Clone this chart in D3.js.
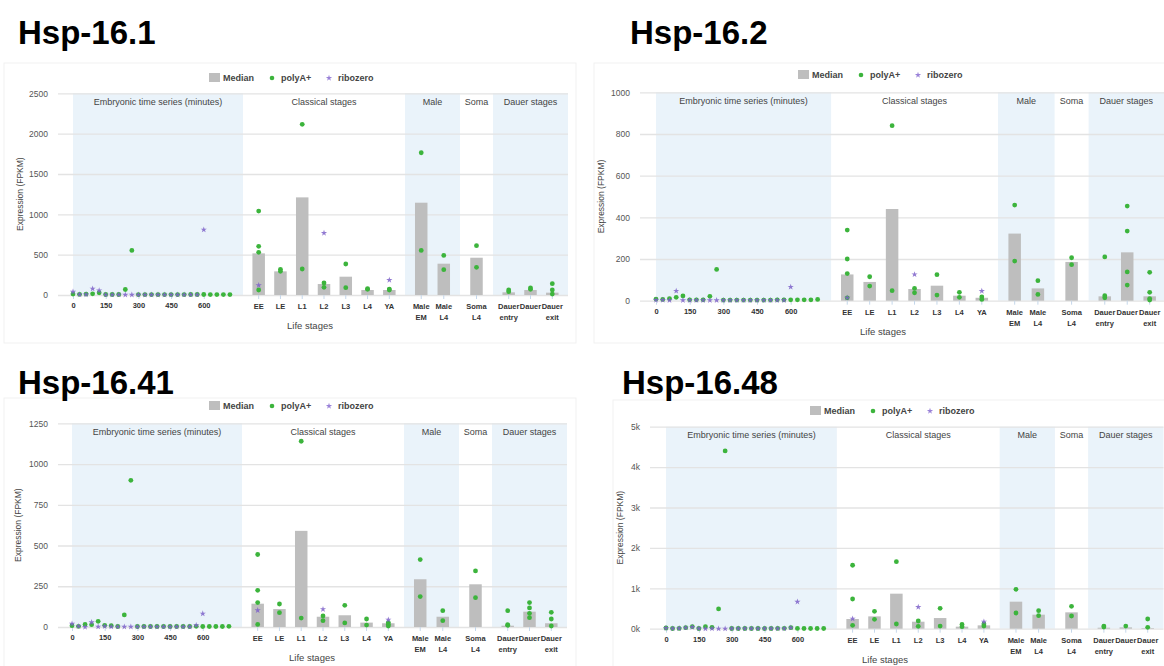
<!DOCTYPE html>
<html>
<head>
<meta charset="utf-8">
<script src="https://cdn.jsdelivr.net/npm/d3@7"></script>
<style>
body { margin: 0; background: #fff; }
text { font-family: "Liberation Sans", Arial, sans-serif; }
</style>
</head>
<body>
<svg id="chart" width="1164" height="666"></svg>
<script>
// categories
var embTimes = [0, 30, 60, 90, 120, 150, 180, 210, 240, 270, 300, 330, 360, 390, 420, 450, 480, 510, 540, 570, 600, 630, 660, 690, 720];
var riboTimes = [0, 30, 60, 90, 120, 150, 180, 210, 240, 270, 300, 330, 360, 390, 420, 450, 480, 510, 540, 570, 600];
var embTickLabels = [0, 150, 300, 450, 600];
var stageNames = ["EE", "LE", "L1", "L2", "L3", "L4", "YA", "Male EM", "Male L4", "Soma L4", "Dauer entry", "Dauer", "Dauer exit"];
var sectionNames = ["Embryonic time series (minutes)", "Classical stages", "Male", "Soma", "Dauer stages"];
var sectionStages = [[], ["EE", "LE", "L1", "L2", "L3", "L4", "YA"], ["Male EM", "Male L4"], ["Soma L4"], ["Dauer entry", "Dauer", "Dauer exit"]];
var legendLabels = ["Median", "polyA+", "ribozero"];

// Hsp-16.1
var hsp161EmbPolyA = [12, 8, 12, 14, 28, 6, 6, 6, 68, 553, 5, 5, 5, 5, 5, 5, 5, 5, 6, 6, 6, 5, 5, 5, 5];
var hsp161EmbRibo = [40, 5, 6, 78, 56, 4, 4, 4, 3, 3, 3, 3, 3, 3, 3, 3, 3, 4, 4, 4, 810];
var hsp161Median = [516, 293, 1210, 136, 227, 62, 62, 1144, 388, 462, 33, 62, 29];
var hsp161PolyA = [[1040, 603, 529, 62], [318, 293], [2115, 322], [149, 95], [384, 91], [78, 70], [74, 62], [1763, 553], [491, 314], [611, 343], [62, 41], [87, 70], [140, 62, 12]];
var hsp161Ribo = [[120], [], [], [768], [], [], [186], [], [], [], [], [], []];

// Hsp-16.2
var hsp162EmbPolyA = [8, 6, 10, 16, 23, 4, 4, 4, 21, 150, 3, 3, 3, 3, 3, 3, 3, 3, 4, 4, 4, 4, 4, 4, 6];
var hsp162EmbRibo = [3, 3, 2, 47, 2, 2, 2, 2, 2, 2, 2, 2, 2, 2, 2, 2, 2, 2, 2, 2, 66];
var hsp162Median = [126, 90, 440, 56, 72, 24, 14, 322, 59, 186, 21, 232, 21];
var hsp162PolyA = [[339, 200, 130, 14], [115, 70], [840, 48], [59, 38], [125, 27], [40, 16], [18, 6], [459, 190], [96, 30], [206, 173], [210, 24, 14], [454, 334, 138, 75], [136, 40, 10, 3]];
var hsp162Ribo = [[14], [], [], [126], [], [], [46], [], [], [], [], [], []];

// Hsp-16.41
var hsp1641EmbPolyA = [8, 4, 16, 14, 35, 10, 8, 3, 74, 900, 3, 3, 3, 3, 3, 3, 3, 3, 3, 4, 3, 3, 3, 3, 4];
var hsp1641EmbRibo = [20, 4, 0, 29, 2, 4, 2, 2, 1, 1, 1, 1, 1, 1, 1, 1, 1, 1, 1, 10, 82];
var hsp1641Median = [143, 110, 590, 63, 72, 27, 23, 293, 63, 262, 8, 94, 23];
var hsp1641PolyA = [[445, 225, 150, 16], [141, 88], [1140, 55], [68, 39], [133, 25], [49, 12], [27, 16, 6], [414, 187], [100, 39], [344, 180], [100, 14, 10], [150, 117, 84, 57], [90, 49, 6]];
var hsp1641Ribo = [[102], [], [], [109], [], [], [45], [], [], [], [], [], []];

// Hsp-16.48
var hsp1648EmbPolyA = [17, 5, 8, 25, 50, 5, 50, 33, 490, 4400, 5, 5, 5, 5, 5, 5, 5, 8, 10, 25, 8, 5, 5, 5, 5];
var hsp1648EmbRibo = [17, 5, 8, 25, 40, 3, 0, 2, 0, 0, 2, 2, 2, 2, 2, 2, 2, 2, 2, 25, 667];
var hsp1648Median = [240, 305, 867, 173, 264, 50, 83, 669, 347, 405, 25, 33, 16];
var hsp1648PolyA = [[1570, 735, 83], [430, 231], [1660, 116], [190, 58], [504, 66], [107, 50], [116, 66], [975, 388], [446, 322], [553, 314], [66, 41], [66], [240, 33]];
var hsp1648Ribo = [[248], [], [], [537], [], [], [173], [], [], [], [], [], []];

var svg = d3.select("#chart");

var sectionWidths = [170, 162, 55, 33, 75];
var sectionShaded = [true, false, true, false, true];
var green = "#3cb43c", purple = "#7e62c9", barGrey = "#bebebe", bandBlue = "#eaf3fa";

var panels = [
    { title: "Hsp-16.1", tx: 18, ty: 44, box: [4, 63, 572, 280], lx: 209, ly: 78, lsx: 310,
      gx0: 58, bandX: 73, k: 1, top: 93.3, bottom: 295, yMax: 2500, yStep: 500, fmt: d3.format("d"), ytx: 20,
      embPolyA: hsp161EmbPolyA, embRibo: hsp161EmbRibo, median: hsp161Median, polyA: hsp161PolyA, ribo: hsp161Ribo },
    { title: "Hsp-16.2", tx: 630, ty: 44, box: [594, 63, 580, 280], lx: 798, ly: 75, lsx: 883,
      gx0: 640, bandX: 656, k: 1.03, top: 92.3, bottom: 300.7, yMax: 1000, yStep: 200, fmt: d3.format("d"), ytx: 601,
      embPolyA: hsp162EmbPolyA, embRibo: hsp162EmbRibo, median: hsp162Median, polyA: hsp162PolyA, ribo: hsp162Ribo },
    { title: "Hsp-16.41", tx: 18, ty: 394, box: [4, 398, 572, 280], lx: 209, ly: 406, lsx: 312,
      gx0: 58, bandX: 72, k: 1.0, top: 423.3, bottom: 627, yMax: 1250, yStep: 250, fmt: d3.format("d"), ytx: 18,
      embPolyA: hsp1641EmbPolyA, embRibo: hsp1641EmbRibo, median: hsp1641Median, polyA: hsp1641PolyA, ribo: hsp1641Ribo },
    { title: "Hsp-16.48", tx: 622, ty: 394, box: [613, 400, 560, 280], lx: 810, ly: 411, lsx: 885,
      gx0: 650, bandX: 666, k: 1.005, top: 426.7, bottom: 628.7, yMax: 5000, yStep: 1000, fmt: function (d) { return (d / 1000) + "k"; }, ytx: 620,
      embPolyA: hsp1648EmbPolyA, embRibo: hsp1648EmbRibo, median: hsp1648Median, polyA: hsp1648PolyA, ribo: hsp1648Ribo }
];

var star = d3.symbol().type(d3.symbolStar).size(12);

panels.forEach(drawPanel);

function drawPanel(p) {
    var g = svg.append("g");

    g.append("rect")
        .attr("x", p.box[0]).attr("y", p.box[1])
        .attr("width", p.box[2]).attr("height", p.box[3])
        .attr("fill", "none").attr("stroke", "#f1f1f1");

    // legend
    var lg = g.append("g").attr("transform", "translate(" + p.lx + "," + p.ly + ")");
    lg.append("rect").attr("x", 0).attr("y", -5).attr("width", 11).attr("height", 9).attr("fill", barGrey);
    lg.append("circle").attr("cx", 63).attr("cy", 0).attr("r", 2.3).attr("fill", green);
    lg.append("path").attr("d", star).attr("transform", "translate(120,0)").attr("fill", "#9a82d8");
    lg.selectAll("text.leg").data(legendLabels).enter().append("text")
        .attr("class", "leg")
        .attr("x", function (d, i) { return [14, 72, 129][i]; })
        .attr("y", 3.3)
        .style("font-size", "9px").style("font-weight", "bold").attr("fill", "#444")
        .text(function (d) { return d; });

    var y = d3.scaleLinear().domain([0, p.yMax]).range([p.bottom, p.top]);

    var xs = [p.bandX];
    sectionWidths.forEach(function (w) { xs.push(xs[xs.length - 1] + w * p.k); });
    var gx1 = Math.min(xs[5], 1164);

    // section bands
    sectionNames.forEach(function (name, i) {
        if (sectionShaded[i]) {
            g.append("rect")
                .attr("x", xs[i]).attr("y", p.top)
                .attr("width", xs[i + 1] - xs[i]).attr("height", p.bottom - p.top)
                .attr("fill", bandBlue);
        }
        g.append("text")
            .attr("x", (xs[i] + Math.min(xs[i + 1], 1164)) / 2)
            .attr("y", p.top + 11.5)
            .attr("text-anchor", "middle")
            .style("font-size", "9px").attr("fill", "#444")
            .text(name);
    });

    // y axis + grid
    var yAxis = d3.axisLeft(y)
        .tickValues(d3.range(0, p.yMax + 1, p.yStep))
        .tickSize(-(gx1 - p.gx0))
        .tickPadding(10)
        .tickFormat(p.fmt);
    var ya = g.append("g").attr("transform", "translate(" + p.gx0 + ",0)").call(yAxis);
    ya.select(".domain").remove();
    ya.selectAll("line").attr("stroke", "#e3e3e3").attr("stroke-width", 1.3);
    ya.selectAll("text").style("font-size", "8.5px").attr("fill", "#555");

    g.append("text")
        .attr("transform", "translate(" + p.ytx + "," + ((p.top + p.bottom) / 2) + ") rotate(-90)")
        .attr("text-anchor", "middle").attr("dy", "0.35em")
        .style("font-size", "8.5px").attr("fill", "#444")
        .text("Expression (FPKM)");

    // embryonic series
    var xe = d3.scaleLinear().domain([0, 780]).range([xs[0], xs[1]]);
    var xea = d3.axisBottom(xe).tickValues(embTickLabels).tickSize(4).tickPadding(4);
    var xeg = g.append("g").attr("transform", "translate(0," + p.bottom + ")").call(xea);
    xeg.select(".domain").remove();
    xeg.selectAll("line").attr("stroke", "#c5d7ea");
    xeg.selectAll("text").style("font-size", "7.5px").style("font-weight", "bold").attr("fill", "#333");

    g.selectAll("circle.embp").data(p.embPolyA).enter().append("circle")
        .attr("class", "embp")
        .attr("cx", function (d, i) { return xe(embTimes[i]); })
        .attr("cy", function (d) { return y(d); })
        .attr("r", 2.4).attr("fill", green);
    g.selectAll("path.embr").data(p.embRibo).enter().append("path")
        .attr("class", "embr")
        .attr("d", star)
        .attr("transform", function (d, i) { return "translate(" + xe(riboTimes[i]) + "," + y(d) + ")"; })
        .attr("fill", purple).attr("opacity", 0.85);

    // stage sections
    var xPos = {};
    sectionStages.forEach(function (st, i) {
        if (!st.length) return;
        var sc = d3.scalePoint().domain(st).range([xs[i], xs[i + 1]]).padding(0.72);
        st.forEach(function (s) { xPos[s] = sc(s); });
    });
    var barW = 12.5;

    g.selectAll("rect.med").data(p.median).enter().append("rect")
        .attr("class", "med")
        .attr("x", function (d, i) { return xPos[stageNames[i]] - barW / 2; })
        .attr("y", function (d) { return y(d); })
        .attr("width", barW)
        .attr("height", function (d) { return p.bottom - y(d); })
        .attr("fill", barGrey);

    var tg = g.append("g");
    stageNames.forEach(function (s, i) {
        var cx = xPos[s];
        if (cx > 1164) return;
        tg.append("line").attr("x1", cx).attr("x2", cx).attr("y1", p.bottom).attr("y2", p.bottom + 4).attr("stroke", "#c5d7ea");
        var parts = s === "Dauer" ? [s] : s.split(" ");
        parts.forEach(function (t, j) {
            tg.append("text").attr("x", cx).attr("y", p.bottom + 14 + j * 11)
                .attr("text-anchor", "middle")
                .style("font-size", "7.5px").style("font-weight", "bold").attr("fill", "#333")
                .text(t);
        });
        g.selectAll(null).data(p.polyA[i]).enter().append("circle")
            .attr("cx", cx).attr("cy", function (d) { return y(d); })
            .attr("r", 2.4).attr("fill", green);
        g.selectAll(null).data(p.ribo[i]).enter().append("path")
            .attr("d", star)
            .attr("transform", function (d) { return "translate(" + cx + "," + y(d) + ")"; })
            .attr("fill", purple).attr("opacity", 0.85);
    });

    g.append("text")
        .attr("x", p.lsx)
        .attr("y", p.bottom + 34)
        .attr("text-anchor", "middle")
        .style("font-size", "9.5px").attr("fill", "#444")
        .text("Life stages");

    // gene title on top of everything
    svg.append("text")
        .attr("x", p.tx).attr("y", p.ty)
        .style("font-size", "33px").style("font-weight", "bold").attr("fill", "#000")
        .text(p.title);
}
</script>
</body>
</html>
